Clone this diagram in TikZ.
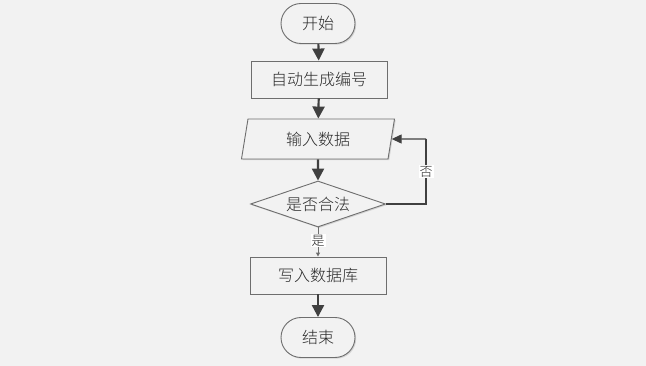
\documentclass[tikz,border=0pt]{standalone}
\usepackage{fontspec}
\newfontfamily\cjk{Noto Sans CJK SC Light}
\usetikzlibrary{shapes.geometric,shapes.misc,arrows.meta,shadows}
\definecolor{bg}{RGB}{242,242,242}
\definecolor{edge}{RGB}{110,110,110}
\definecolor{arr}{RGB}{64,64,64}
\definecolor{txt}{RGB}{40,40,40}
\tikzset{
  base/.style={draw=edge, line width=0.9pt, fill=bg, text=txt, font=\cjk\fontsize{16}{19}\selectfont, inner sep=0pt,
    drop shadow={shadow xshift=1.2pt, shadow yshift=-1.2pt, fill=black!25, opacity=0.6}},
  term/.style={base, rounded rectangle, minimum width=74pt, minimum height=40pt},
  proc/.style={base, rectangle, minimum width=136pt, minimum height=37pt},
  io/.style={base, trapezium, trapezium left angle=66, trapezium right angle=114, minimum width=153pt, minimum height=40pt, trapezium stretches body},
  dec/.style={base, diamond, minimum width=135pt, minimum height=46pt, aspect=2.9},
  flow/.style={draw=arr, line width=2.2pt, -{Triangle[length=12pt,width=12pt]}},
  lab/.style={fill=white, text=txt, font=\cjk\fontsize{13}{15}\selectfont, inner sep=1pt},
}
\begin{document}
\begin{tikzpicture}[x=1pt,y=-1pt]
\fill[bg] (0,0) rectangle (646,366);
\useasboundingbox (0,0) rectangle (646,366);
\node[term] (start) at (318,23.5) {开始};
\node[proc] (gen) at (319,79.5) {自动生成编号};
\node[io] (input) at (318,139) {输入数据};
\node[dec] (check) at (318,204) {是否合法};
\node[proc] (write) at (318,275.5) {写入数据库};
\node[term] (end) at (318,337.5) {结束};
\coordinate (c1) at (426,204);
\coordinate (c2) at (426,139);
\draw[flow] (start) -- (gen);
\draw[flow] (gen) -- (input);
\draw[flow] (input) -- (check);
\draw[draw=edge, line width=1pt, -{Triangle[length=4pt,width=4pt]}] (check) -- node[lab, pos=0.45] {是} (write);
\draw[flow] (write) -- (end);
\draw[draw=arr, line width=1.3pt] (check.east) -- (c1) -- node[lab, pos=0.5] {否} (c2);
\draw[draw=arr, line width=1.3pt, -{Triangle[length=10pt,width=9pt]}] (c2) -- (input.east);
\end{tikzpicture}
\end{document}
